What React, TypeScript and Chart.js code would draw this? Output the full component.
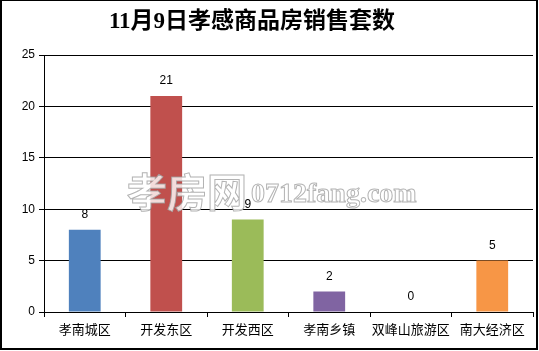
import React, { useEffect, useRef } from "react";
import { Chart, registerables } from "chart.js";

Chart.register(...registerables);

const titleText = "11月9日孝感商品房销售套数";
const categories = ["孝南城区", "开发东区", "开发西区", "孝南乡镇", "双峰山旅游区", "南大经济区"];
const salesValues = [8, 21, 9, 2, 0, 5];
const barColors = ["#4F81BD", "#C0504D", "#9BBB59", "#8064A2", "#4BACC6", "#F79646"];
const yMax = 25;
const yStep = 5;
const watermarkCn = "孝房网";
const watermarkEn = "0712fang.com";

const W = 539;
const H = 351;

const decorPlugin = {
  id: "decor",
  beforeDraw(chart: any) {
    const ctx = chart.ctx;
    ctx.save();
    ctx.fillStyle = "#ffffff";
    ctx.fillRect(0, 0, chart.width, chart.height);
    ctx.restore();
  },
  afterDatasetsDraw(chart: any) {
    const ctx = chart.ctx;
    const meta = chart.getDatasetMeta(0);
    ctx.save();
    // value labels
    ctx.fillStyle = "#000";
    ctx.font = "12px 'Liberation Sans', Arial, sans-serif";
    ctx.textAlign = "center";
    ctx.textBaseline = "middle";
    meta.data.forEach((bar: any, i: number) => {
      ctx.fillText(String(salesValues[i]), bar.x, bar.y - 15);
    });
    // watermark
    ctx.lineWidth = 1;
    ctx.strokeStyle = "rgba(160,160,160,0.8)";
    ctx.fillStyle = "rgba(255,255,255,0.8)";
    ctx.textAlign = "left";
    ctx.textBaseline = "alphabetic";
    ctx.font = "bold 40px 'Noto Sans CJK SC', sans-serif";
    ctx.fillText(watermarkCn, 127, 207);
    ctx.strokeText(watermarkCn, 127, 207);
    ctx.font = "bold 28px 'Liberation Serif', serif";
    ctx.fillText(watermarkEn, 251, 202);
    ctx.strokeText(watermarkEn, 251, 202);
    // title
    ctx.fillStyle = "#000";
    ctx.textAlign = "center";
    ctx.textBaseline = "middle";
    ctx.font = "bold 23px 'Liberation Serif', 'Noto Sans CJK SC', serif";
    ctx.fillText(titleText, 252, 22);
    // border
    ctx.strokeStyle = "#000";
    ctx.lineWidth = 2;
    ctx.strokeRect(1, 0, W - 3, H - 2);
    ctx.restore();
  },
};

export default function App() {
  const ref = useRef<HTMLCanvasElement | null>(null);
  useEffect(() => {
    if (!ref.current) return;
    const chart = new Chart(ref.current, {
      type: "bar",
      data: {
        labels: categories,
        datasets: [
          {
            data: salesValues,
            backgroundColor: barColors,
            borderWidth: 0,
            barPercentage: 0.39,
            categoryPercentage: 1,
          },
        ],
      },
      options: {
        animation: false,
        responsive: false,
        maintainAspectRatio: false,
        layout: { padding: { top: 55, left: 0, right: 6, bottom: 0 } },
        plugins: {
          legend: { display: false },
          title: { display: false },
          tooltip: { enabled: false },
        },
        scales: {
          x: {
            afterFit(scale: any) {
              scale.height = 39;
            },
            grid: {
              display: true,
              drawOnChartArea: false,
              drawTicks: true,
              tickLength: 5,
              color: "#000",
              offset: true,
            },
            border: { display: true, color: "#000", width: 1 },
            ticks: {
              color: "#000",
              padding: 4,
              font: { size: 13, family: "'Noto Sans CJK SC', sans-serif" },
              maxRotation: 0,
              autoSkip: false,
            },
          },
          y: {
            min: 0,
            max: yMax,
            afterFit(scale: any) {
              scale.width = 44;
            },
            grid: {
              color: "#000",
              lineWidth: 1,
              drawTicks: true,
              tickLength: 5,
            },
            border: { display: true, color: "#000", width: 1 },
            ticks: {
              stepSize: yStep,
              color: "#000",
              padding: 4,
              font: { size: 12, family: "'Liberation Sans', Arial, sans-serif" },
            },
          },
        },
      },
      plugins: [decorPlugin],
    });
    return () => chart.destroy();
  }, []);
  return (
    <div style={{ position: "fixed", left: 0, top: 0, width: W, height: H, background: "#fff" }}>
      <canvas ref={ref} width={W} height={H} style={{ display: "block", width: W, height: H }} />
    </div>
  );
}
